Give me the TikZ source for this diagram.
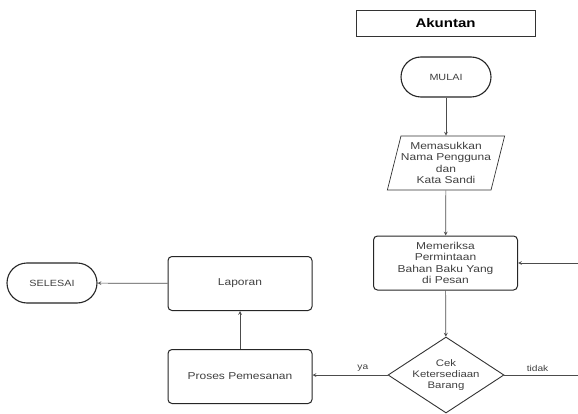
\documentclass[tikz,border=0pt]{standalone}
\usepackage{fontspec}
\setmainfont{Liberation Sans}[FakeStretch=1.2]
\usetikzlibrary{shapes.geometric, arrows}
\tikzstyle{title} = [rectangle, minimum width=179pt, minimum height=26pt, text centered, draw=black!80, line width=0.8pt, fill=white, font=\bfseries\fontsize{12.5}{14}\selectfont]
\tikzstyle{startstop} = [rectangle, rounded corners=20pt, minimum width=90pt, minimum height=40pt, text centered, draw=black!85, line width=1.1pt, fill=white, text=black!75, font=\fontsize{9}{11}\selectfont]
\tikzstyle{io} = [trapezium, trapezium left angle=72, trapezium right angle=108, trapezium stretches body, minimum width=113pt, minimum height=54pt, inner sep=0pt, align=center, draw=black!80, line width=0.7pt, fill=white, text=black!75, font=\fontsize{10}{11.5}\selectfont]
\tikzstyle{process} = [rectangle, rounded corners=4pt, minimum width=144pt, minimum height=54pt, align=center, draw=black!85, line width=1pt, fill=white, text=black!75, font=\fontsize{10}{11.2}\selectfont]
\tikzstyle{decision} = [diamond, aspect=1.53, minimum width=116pt, minimum height=76pt, inner sep=0pt, align=center, draw=black!80, line width=0.9pt, fill=white, text=black!75, font=\fontsize{9.5}{11}\selectfont]
\tikzstyle{answer} = [text=black!75, font=\fontsize{8.5}{10}\selectfont]
\tikzstyle{arrow} = [line width=0.7pt, draw=black!70, ->, >=stealth]
\tikzstyle{line} = [line width=0.7pt, draw=black!70]

\begin{document}
\begin{tikzpicture}[x=1pt, y=-1pt]
        \useasboundingbox (0,0) rectangle (578,414);

        \node (akuntan) [title] at (445.5,23) {Akuntan};
        \node (mulai) [startstop] at (446,77) {MULAI};
        \node (masuk) [io] at (446,163) {Memasukkan\\Nama Pengguna\\dan\\Kata Sandi};
        \node (periksa) [process] at (445.5,263) {Memeriksa\\Permintaan\\Bahan Baku Yang\\di Pesan};
        \node (cek) [decision] at (446,375) {Cek\\Ketersediaan\\Barang};
        \node (proses) [process] at (240,376.5) {Proses Pemesanan};
        \node (laporan) [process] at (240,283.5) {Laporan};
        \node (selesai) [startstop] at (52,283) {SELESAI};
        \coordinate (kembali) at (578,263);
        \coordinate (lanjut) at (578,375);

        \draw [arrow] (mulai) -- (masuk);
        \draw [arrow] (masuk) -- (periksa);
        \draw [arrow] (periksa) -- (cek);
        \draw [arrow] (cek.west) -- node (ya) [answer, above, pos=0.33] {ya} (proses.east |- cek.west);
        \draw [line] (cek.east) -- node (tidak) [answer, above, pos=0.45] {tidak} (lanjut);
        \draw [arrow] (kembali) -- (periksa.east);
        \draw [arrow] (proses) -- (laporan);
        \draw [arrow] (laporan) -- (selesai);
    \end{tikzpicture}
\end{document}
